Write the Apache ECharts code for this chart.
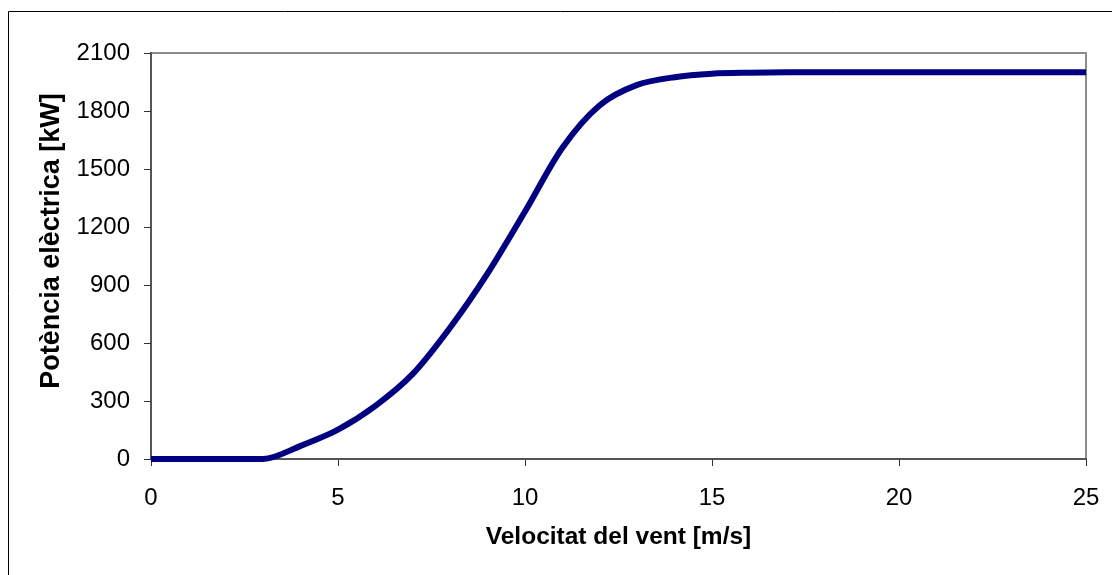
<!DOCTYPE html>
<html>
<head>
<meta charset="utf-8">
<script src="https://cdn.jsdelivr.net/npm/echarts@6/dist/echarts.min.js"></script>
<style>
html,body{margin:0;padding:0;background:#fff;}
#chart{width:1112px;height:575px;}
</style>
</head>
<body>
<div id="chart"></div>
<script>
var windSpeed = [0,1,2,3,4,5,6,7,8,9,10,11,12,13,14,15,16,17,18,19,20,21,22,23,24,25];
var power = [0,0,0,0,68,152,275,440,680,960,1280,1610,1830,1935,1975,1993,1998,2000,2000,2000,2000,2000,2000,2000,2000,2000];
var xTitle = 'Velocitat del vent [m/s]';
var yTitle = 'Potència elèctrica [kW]';

var data = windSpeed.map(function(v,i){return [v, power[i]];});
var font = '"Liberation Sans", Arial, sans-serif';
var chart = echarts.init(document.getElementById('chart'));
chart.setOption({
  animation:false,
  backgroundColor:'#fff',
  graphic:[
    {type:'rect',shape:{x:8.5,y:11.5,width:1120,height:600},style:{fill:'none',stroke:'#000',lineWidth:1},silent:true},
    {type:'text',x:52,y:241,rotation:Math.PI/2,silent:true,
     style:{text:yTitle,textAlign:'center',textVerticalAlign:'middle',fontFamily:'Liberation Sans',fontSize:27,fontWeight:'bold',fill:'#000'}}
  ],
  grid:{left:151,top:53,right:26,bottom:116,show:true,borderColor:'#8c8c8c',borderWidth:2,backgroundColor:'transparent'},
  xAxis:{type:'value',min:0,max:25,interval:5,
    name:xTitle,nameLocation:'middle',nameGap:66,
    nameTextStyle:{fontFamily:font,fontSize:24.5,fontWeight:'bold',color:'#000'},
    axisLine:{show:true,onZero:false,lineStyle:{color:'#555',width:2}},
    axisTick:{show:true,length:7,lineStyle:{color:'#333',width:1}},
    axisLabel:{fontFamily:font,fontSize:24,color:'#000',margin:27},
    splitLine:{show:false}},
  yAxis:{type:'value',min:0,max:2100,interval:300,
    axisLine:{show:true,lineStyle:{color:'#555',width:2}},
    axisTick:{show:true,length:7,lineStyle:{color:'#333',width:1}},
    axisLabel:{fontFamily:font,fontSize:24,color:'#000',margin:21,formatter:function(v){return String(v);}},
    splitLine:{show:false}},
  series:[{type:'line',data:data,smooth:0.3,showSymbol:false,symbol:'none',
    lineStyle:{color:'#000080',width:6},clip:false}]
});
</script>
</body>
</html>
